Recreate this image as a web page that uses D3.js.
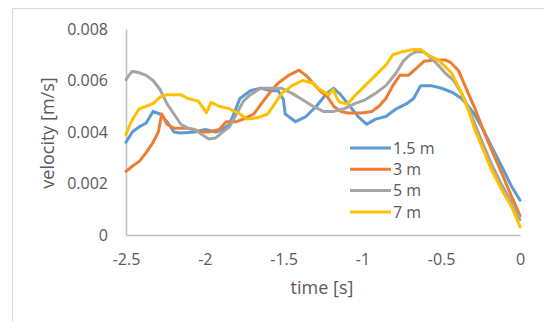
<!DOCTYPE html>
<html>
<head>
<meta charset="utf-8">
<script src="https://cdn.jsdelivr.net/npm/d3@7"></script>
<style>
  html, body { margin: 0; padding: 0; background: #fff; }
  svg { display: block; }
  text { font-family: "Open Sans", sans-serif; fill: #595959; }
</style>
</head>
<body>
<svg id="chart" width="544" height="322"></svg>
<script>
// ---- data (time in s, velocity in 1e-3 m/s) ----
const seriesNames = ["1.5 m", "3 m", "5 m", "7 m"];
const seriesColors = ["#5b9bd5", "#ed7d31", "#a5a5a5", "#ffc000"];

const t15 = [-2.5,-2.46,-2.416,-2.372,-2.328,-2.284,-2.24,-2.196,-2.152,-2.063,-1.997,-1.931,-1.887,-1.843,-1.777,-1.711,-1.645,-1.578,-1.534,-1.501,-1.49,-1.424,-1.358,-1.292,-1.226,-1.182,-1.138,-1.093,-1.027,-0.972,-0.917,-0.851,-0.785,-0.719,-0.675,-0.63,-0.564,-0.497,-0.433,-0.37,-0.328,-0.286,-0.233,-0.18,-0.116,-0.053,0];
const v15 = [3.6,4.0,4.2,4.35,4.8,4.7,4.4,4.0,3.96,4.0,4.1,4.0,4.1,4.3,5.3,5.6,5.7,5.6,5.6,5.25,4.7,4.4,4.6,5.0,5.5,5.7,5.45,5.1,4.6,4.3,4.5,4.6,4.9,5.1,5.3,5.8,5.8,5.7,5.55,5.3,5.0,4.66,4.08,3.43,2.66,1.88,1.35];

const t3 = [-2.5,-2.46,-2.416,-2.372,-2.328,-2.295,-2.273,-2.24,-2.196,-2.108,-2.019,-1.975,-1.909,-1.865,-1.799,-1.755,-1.689,-1.623,-1.578,-1.534,-1.468,-1.402,-1.358,-1.314,-1.27,-1.226,-1.182,-1.138,-1.093,-1.005,-0.939,-0.895,-0.851,-0.807,-0.763,-0.708,-0.653,-0.608,-0.542,-0.476,-0.44,-0.392,-0.328,-0.286,-0.233,-0.18,-0.116,-0.053,0];
const v3 = [2.47,2.67,2.86,3.2,3.6,4.0,4.7,4.3,4.15,4.15,4.0,4.0,4.1,4.4,4.4,4.5,4.7,5.25,5.6,5.9,6.2,6.4,6.2,5.9,5.6,5.4,5.0,4.8,4.74,4.74,4.8,5.0,5.3,5.8,6.2,6.2,6.5,6.75,6.8,6.8,6.7,6.4,5.5,4.92,4.08,3.3,2.4,1.49,0.75];

const t5 = [-2.5,-2.482,-2.46,-2.416,-2.372,-2.328,-2.284,-2.24,-2.196,-2.152,-2.108,-2.063,-2.019,-1.975,-1.931,-1.887,-1.843,-1.799,-1.755,-1.711,-1.645,-1.578,-1.512,-1.446,-1.38,-1.314,-1.248,-1.182,-1.116,-1.049,-0.983,-0.917,-0.851,-0.785,-0.741,-0.697,-0.653,-0.608,-0.564,-0.52,-0.476,-0.42,-0.37,-0.328,-0.286,-0.233,-0.18,-0.116,-0.053,0];
const v5 = [6.03,6.2,6.36,6.3,6.2,6.0,5.65,5.1,4.7,4.3,4.15,4.1,3.9,3.73,3.77,4.0,4.2,4.7,5.2,5.45,5.7,5.7,5.7,5.5,5.25,5.0,4.8,4.8,4.9,5.1,5.25,5.5,5.8,6.3,6.75,7.0,7.13,7.1,6.87,6.6,6.3,6.0,5.5,4.95,4.3,3.5,2.75,1.95,1.25,0.6];

const t7 = [-2.5,-2.471,-2.438,-2.416,-2.372,-2.328,-2.284,-2.24,-2.152,-2.108,-2.041,-1.99,-1.96,-1.909,-1.843,-1.777,-1.733,-1.667,-1.601,-1.556,-1.512,-1.446,-1.38,-1.314,-1.27,-1.215,-1.185,-1.16,-1.142,-1.093,-1.049,-0.983,-0.917,-0.851,-0.807,-0.741,-0.675,-0.63,-0.586,-0.52,-0.476,-0.433,-0.37,-0.328,-0.286,-0.233,-0.18,-0.116,-0.053,0];
const v7 = [3.9,4.35,4.7,4.9,5.0,5.1,5.36,5.45,5.45,5.3,5.2,4.75,5.15,5.0,4.9,4.7,4.5,4.55,4.7,5.1,5.5,5.8,6.0,5.9,5.65,5.45,5.65,5.3,5.15,5.1,5.4,5.8,6.2,6.6,7.0,7.13,7.2,7.2,7.0,6.8,6.55,6.28,5.5,4.85,4.08,3.3,2.52,1.75,1.1,0.32];

const xTicks = [-2.5, -2, -1.5, -1, -0.5, 0];
const yTicks = [0, 0.002, 0.004, 0.006, 0.008];
const xTitle = "time [s]";
const yTitle = "velocity [m/s]";

// ---- build ----
const series = [[t15, v15], [t3, v3], [t5, v5], [t7, v7]].map((d, i) => ({
  name: seriesNames[i],
  color: seriesColors[i],
  points: d[0].map((t, j) => ({ t: t, v: d[1][j] / 1000 }))
}));

const svg = d3.select("#chart");

// outer chart border
svg.append("rect")
  .attr("x", 12.5).attr("y", 8.5)
  .attr("width", 600).attr("height", 400)
  .attr("fill", "none").attr("stroke", "#d9d9d9").attr("stroke-width", 1);

const x = d3.scaleLinear().domain([-2.5, 0]).range([126, 520]);
const y = d3.scaleLinear().domain([0, 0.008]).range([235, 29]);

// axes
const xAxis = d3.axisBottom(x).tickValues(xTicks).tickSize(0).tickPadding(18)
  .tickFormat(d => d3.format("")(d).replace("−", "-"));
const gx = svg.append("g").attr("transform", `translate(0,${y(0)})`).call(xAxis);
gx.select(".domain").attr("stroke", "#bfbfbf").attr("stroke-width", 1.5);
gx.selectAll("text").attr("font-size", 16).attr("fill", "#595959")
  .attr("font-family", "Open Sans, sans-serif").attr("dy", "0.35em").attr("y", 24);

const yAxis = d3.axisLeft(y).tickValues(yTicks).tickSize(0).tickPadding(18)
  .tickFormat(d => d === 0 ? "0" : d3.format(".3f")(d));
const gy = svg.append("g").attr("transform", `translate(${x(-2.5)},0)`).call(yAxis);
gy.select(".domain").attr("stroke", "#bfbfbf").attr("stroke-width", 1.5);
gy.selectAll("text").attr("font-size", 16).attr("fill", "#595959")
  .attr("font-family", "Open Sans, sans-serif").attr("x", -18);

// lines
const line = d3.line().x(d => x(d.t)).y(d => y(d.v));
svg.append("g").selectAll("path").data(series).join("path")
  .attr("d", d => line(d.points))
  .attr("fill", "none")
  .attr("stroke", d => d.color)
  .attr("stroke-width", 3)
  .attr("stroke-linejoin", "round")
  .attr("stroke-linecap", "round");

// axis titles
svg.append("text").attr("x", 322).attr("y", 288).attr("dy", "0.35em")
  .attr("text-anchor", "middle").attr("font-size", 18).text(xTitle);
svg.append("text").attr("transform", "translate(48,133) rotate(-90)")
  .attr("dy", "0.35em").attr("text-anchor", "middle").attr("font-size", 18).text(yTitle);

// legend
const leg = svg.append("g");
series.forEach((s, i) => {
  const yy = 148 + i * 21.3;
  leg.append("line").attr("x1", 350).attr("x2", 391).attr("y1", yy).attr("y2", yy)
    .attr("stroke", s.color).attr("stroke-width", 3);
  leg.append("text").attr("x", 393).attr("y", yy).attr("dy", "0.35em")
    .attr("font-size", 16).text(s.name);
});
</script>
</body>
</html>
